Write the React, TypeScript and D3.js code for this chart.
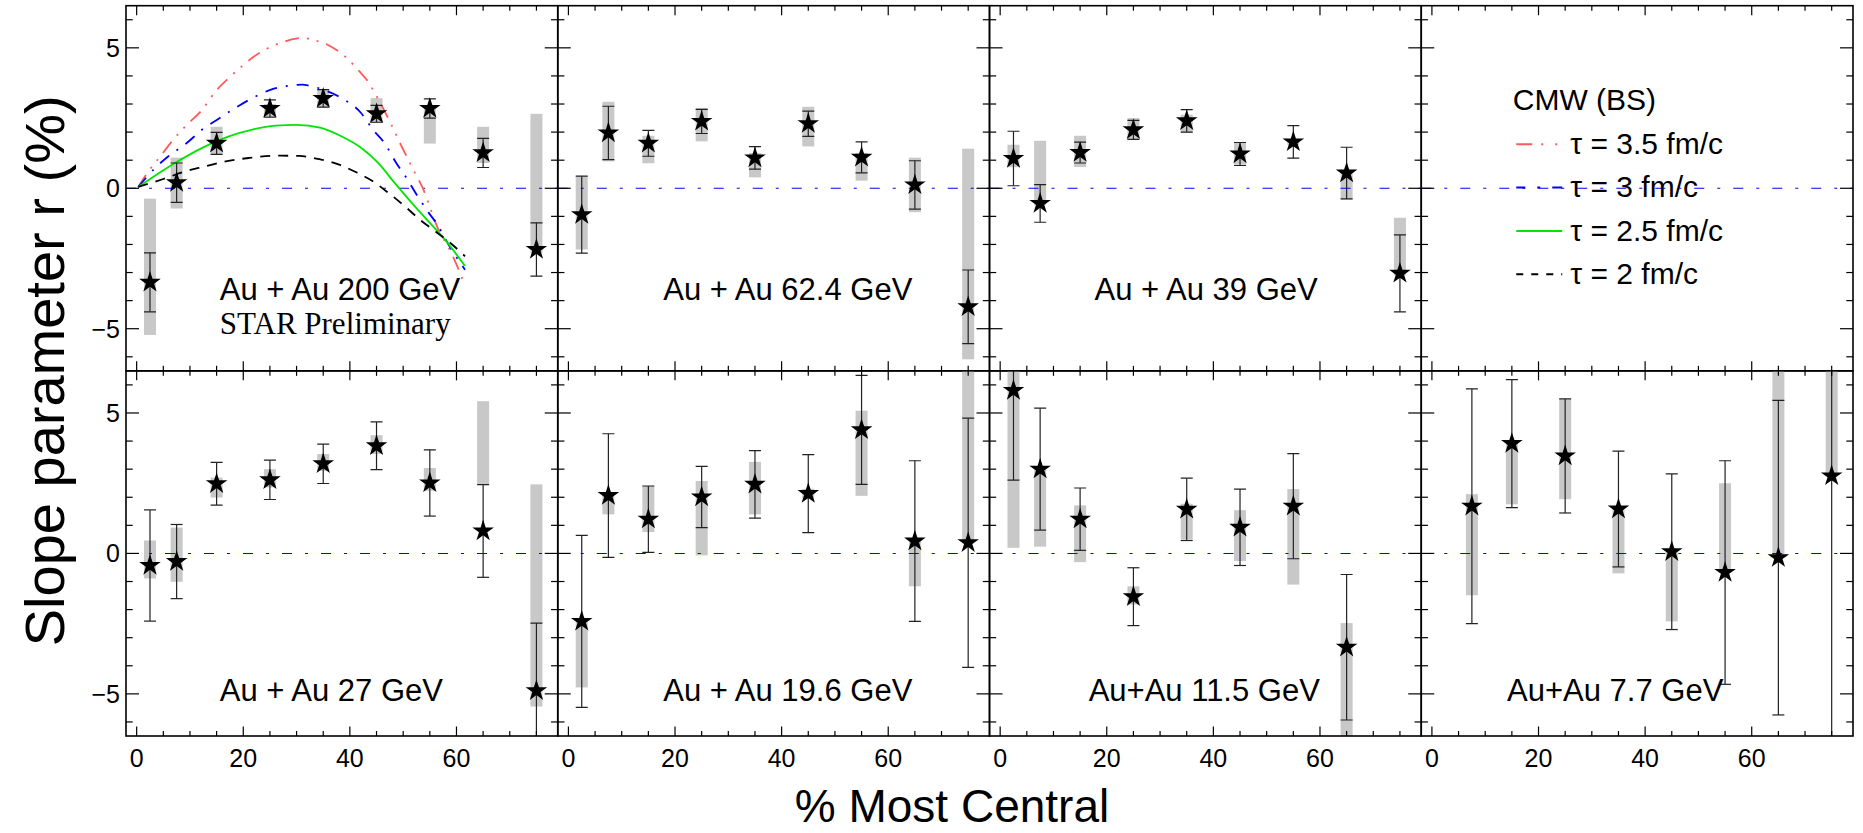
import React from "react";
import * as d3 from "d3";

// ---------------- data ----------------
const centrality = [2.5, 7.5, 15, 25, 35, 45, 55, 65, 75];
const centrality8 = [2.5, 7.5, 15, 25, 35, 45, 55, 65];
const centrality77 = [7.5, 15, 25, 35, 45, 55, 65, 75];

const r200 = [-3.35, 0.2, 1.6, 2.84, 3.2, 2.65, 2.84, 1.26, -2.18];
const stat200 = [1.05, 0.7, 0.39, 0.31, 0.31, 0.3, 0.34, 0.52, 0.95];
const sysLo200 = [-5.22, -0.72, 1.2, 2.56, 2.87, 2.32, 1.59, 0.9, -2.3];
const sysHi200 = [-0.37, 1.09, 2.19, 3.0, 3.5, 3.21, 2.85, 2.19, 2.65];

const r62 = [-0.94, 1.97, 1.6, 2.38, 1.08, 2.3, 1.1, 0.12, -4.22];
const stat62 = [1.37, 0.95, 0.46, 0.43, 0.4, 0.45, 0.55, 0.86, 1.31];
const sysLo62 = [-2.18, 0.96, 0.89, 1.67, 0.39, 1.49, 0.27, -0.85, -6.09];
const sysHi62 = [0.43, 3.08, 1.87, 2.86, 1.26, 2.9, 1.26, 1.09, 1.41];

const r39 = [1.06, -0.54, 1.27, 2.08, 2.4, 1.22, 1.65, 0.54, -3.03];
const stat39 = [0.97, 0.67, 0.37, 0.34, 0.4, 0.41, 0.58, 0.92, 1.37];
const sysLo39 = [0.75, -0.6, 0.76, 1.73, 1.97, 0.84, 1.55, -0.4, -3.1];
const sysHi39 = [1.55, 1.69, 1.87, 2.5, 2.62, 1.64, 1.75, 0.66, -1.05];

const r27 = [-0.43, -0.29, 2.48, 2.62, 3.19, 3.83, 2.51, 0.8, -4.89];
const stat27 = [1.98, 1.32, 0.76, 0.7, 0.7, 0.85, 1.18, 1.65, 2.41];
const sysLo27 = [-0.89, -1.01, 1.99, 2.35, 2.94, 3.54, 2.23, 2.46, -5.45];
const sysHi27 = [0.46, 0.92, 2.7, 3.0, 3.54, 4.21, 3.04, 5.42, 2.46];

const r196 = [-2.42, 2.06, 1.22, 2.01, 2.46, 2.13, 4.4, 0.44, 0.38];
const stat196 = [3.06, 2.2, 1.18, 1.09, 1.2, 1.39, 1.94, 2.86, 4.44];
const sysLo196 = [-4.77, 1.39, 0.76, -0.07, 1.39, 1.95, 2.05, -1.17, 0.36];
const sysHi196 = [-2.3, 2.06, 2.4, 2.58, 3.26, 2.3, 5.08, 0.44, 8.5];

const r115 = [5.8, 3.0, 1.22, -1.54, 1.57, 0.93, 1.68, -3.34];
const stat115 = [3.19, 2.17, 1.11, 1.03, 1.11, 1.36, 1.87, 2.59];
const sysLo115 = [0.2, 0.24, -0.31, -1.82, 0.5, -0.27, -1.11, -7.5];
const sysHi115 = [11.4, 3.0, 1.71, -1.17, 1.77, 1.54, 2.29, -2.48];

const r77 = [1.68, 3.91, 3.47, 1.58, 0.06, -0.68, -0.15, 2.76];
const stat77 = [4.18, 2.28, 2.03, 2.06, 2.77, 3.98, 5.6, 9.5];
const sysLo77 = [-1.49, 1.75, 1.93, -0.71, -2.42, -0.68, -0.15, 2.76];
const sysHi77 = [2.11, 3.91, 5.49, 1.58, 0.06, 2.5, 8.0, 8.0];

// Theory curves (CMW, BS) for Au+Au 200 GeV
const tau35X = [0.3, 2.2, 4.7, 6.6, 9.1, 12.3, 14.8, 17.6, 20.1, 22.0, 27.4, 31.1, 33.6, 35.8, 39.1, 41.8, 43.4, 44.5, 46.2, 47.8, 49.1, 51.9, 53.8, 55.3, 56.6, 58.5, 60.4, 61.6];
const tau35Y = [0.05, 0.6, 1.2, 1.67, 2.2, 2.8, 3.45, 3.98, 4.4, 4.69, 5.2, 5.35, 5.26, 5.11, 4.69, 4.16, 3.8, 3.45, 2.86, 2.26, 1.73, 0.66, -0.05, -0.82, -1.47, -2.1, -2.89, -3.48];
const tau3X = [0.3, 3.45, 5.96, 9.4, 12.3, 15.1, 18.5, 21.7, 25.2, 28.6, 31.1, 32.4, 35.8, 39.0, 42.1, 44.3, 46.5, 48.7, 50.6, 52.5, 54.6, 56.6, 58.5, 60.7, 61.6];
const tau3Y = [0.05, 0.72, 1.14, 1.61, 2.09, 2.44, 2.86, 3.21, 3.51, 3.65, 3.69, 3.65, 3.45, 3.15, 2.68, 2.09, 1.61, 0.9, 0.37, -0.22, -0.82, -1.35, -2.0, -2.65, -2.9];
const tau25X = [0.3, 2.8, 7.2, 12.3, 17.3, 21.7, 26.1, 29.9, 34.6, 38.4, 42.1, 45.3, 48.4, 51.6, 54.7, 57.8, 61.6];
const tau25Y = [0.05, 0.37, 0.9, 1.44, 1.85, 2.09, 2.23, 2.26, 2.15, 1.85, 1.44, 0.9, 0.19, -0.52, -1.17, -1.82, -2.77];
const tau2X = [0.3, 5.0, 9.1, 12.9, 16.7, 21.1, 26.1, 30.5, 34.6, 38.0, 41.2, 44.3, 47.2, 50.3, 53.1, 56.0, 58.8, 61.6];
const tau2Y = [0.05, 0.33, 0.6, 0.78, 0.96, 1.08, 1.16, 1.15, 1.02, 0.84, 0.57, 0.25, -0.16, -0.64, -1.11, -1.53, -1.94, -2.42];

const panelLabels = ["Au + Au 200 GeV", "Au + Au 62.4 GeV", "Au + Au 39 GeV", "", "Au + Au 27 GeV", "Au + Au 19.6 GeV", "Au+Au 11.5 GeV", "Au+Au 7.7 GeV"];
const legendTitle = "CMW (BS)";
const legendLabels = ["τ = 3.5 fm/c", "τ = 3 fm/c", "τ = 2.5 fm/c", "τ = 2 fm/c"];
const xTickValues = [0, 20, 40, 60];
const yTickValues = [-5, 0, 5];
const yTitle = "Slope parameter r (%)";
const xTitle = "% Most Central";

// ---------------- layout / style ----------------
const W = 1863, H = 833;
const LEFT = 126, RIGHT = 1853, TOP = 5.7, BOTTOM = 736;
const PW = (RIGHT - LEFT) / 4;
const PH = (BOTTOM - TOP) / 2;
const XDOM: [number, number] = [-2, 79];
const YDOM: [number, number] = [-6.5, 6.5];
const FONT = "'Liberation Sans', Arial, Helvetica, sans-serif";

const curveStyles = [
  { x: tau35X, y: tau35Y, color: "#ff5a5a", dash: "14,8,2,8,2,8" },
  { x: tau3X, y: tau3Y, color: "#0000ff", dash: "12,9,2,9" },
  { x: tau25X, y: tau25Y, color: "#00e600", dash: "" },
  { x: tau2X, y: tau2Y, color: "#000000", dash: "10,8" },
];
const legendDash = ["16,9,2,12,2,10", "9,12,3,12,10", "", "7,8,7,8,7,8"];

type Panel = {
  label: string;
  x: number[];
  r: number[];
  stat: number[];
  lo: number[];
  hi: number[];
  labelX: number;
  labelY: number;
};

const panels: (Panel | null)[] = [
  { label: panelLabels[0], x: centrality, r: r200, stat: stat200, lo: sysLo200, hi: sysHi200, labelX: 15.6, labelY: -3.96 },
  { label: panelLabels[1], x: centrality, r: r62, stat: stat62, lo: sysLo62, hi: sysHi62, labelX: 17.8, labelY: -3.96 },
  { label: panelLabels[2], x: centrality, r: r39, stat: stat39, lo: sysLo39, hi: sysHi39, labelX: 17.7, labelY: -3.96 },
  null,
  { label: panelLabels[4], x: centrality, r: r27, stat: stat27, lo: sysLo27, hi: sysHi27, labelX: 15.6, labelY: -5.27 },
  { label: panelLabels[5], x: centrality, r: r196, stat: stat196, lo: sysLo196, hi: sysHi196, labelX: 17.8, labelY: -5.27 },
  { label: panelLabels[6], x: centrality8, r: r115, stat: stat115, lo: sysLo115, hi: sysHi115, labelX: 16.6, labelY: -5.27 },
  { label: panelLabels[7], x: centrality77, r: r77, stat: stat77, lo: sysLo77, hi: sysHi77, labelX: 14.1, labelY: -5.27 },
];

const starPath = d3.symbol(d3.symbolStar, 145)() as string;

function PanelView({ idx }: { idx: number }) {
  const col = idx % 4;
  const row = Math.floor(idx / 4);
  const x0 = LEFT + col * PW;
  const y0 = TOP + row * PH;
  const xs = d3.scaleLinear().domain(XDOM).range([x0, x0 + PW]);
  const ys = d3.scaleLinear().domain(YDOM).range([y0 + PH, y0]);
  const p = panels[idx];
  const clipId = `clip${idx}`;

  const minorX = d3.range(0, 80, 5).filter((v) => v % 20 !== 0);
  const majorX = d3.range(0, 80, 20);
  const minorY = d3.range(-6, 7, 1).filter((v) => v % 5 !== 0);
  const majorY = [-5, 0, 5];
  const tk = { majX: 9.5, minX: 5, majY: 13, minY: 6.7 };

  const line = d3
    .line<[number, number]>()
    .x((d) => xs(d[0]))
    .y((d) => ys(d[1]))
    .curve(d3.curveMonotoneX);

  const boxW = 12;
  const capW = 12;

  return (
    <g>
      <defs>
        <clipPath id={clipId}>
          <rect x={x0} y={y0} width={PW} height={PH} />
        </clipPath>
      </defs>
      <g clipPath={`url(#${clipId})`}>
        {p &&
          p.x.map((xv, i) => (
            <rect
              key={"s" + i}
              x={xs(xv) - boxW / 2}
              width={boxW}
              y={ys(p.hi[i])}
              height={Math.max(0, ys(p.lo[i]) - ys(p.hi[i]))}
              fill="#c8c8c8"
            />
          ))}
        <line x1={x0} x2={x0 + PW} y1={ys(0)} y2={ys(0)} stroke="#0000ff" strokeWidth={1.1} strokeDasharray="10,13,3,13" />
        {idx === 0 &&
          curveStyles.map((c, k) => (
            <path
              key={"c" + k}
              d={line(c.x.map((v, i) => [v, c.y[i]] as [number, number])) as string}
              fill="none"
              stroke={c.color}
              strokeWidth={1.8}
              strokeDasharray={c.dash || undefined}
            />
          ))}
        {p &&
          p.x.map((xv, i) => {
            const cx = xs(xv);
            const yt = ys(p.r[i] + p.stat[i]);
            const yb = ys(p.r[i] - p.stat[i]);
            return (
              <g key={"e" + i} stroke="#222" strokeWidth={1.2}>
                <line x1={cx} x2={cx} y1={yt} y2={yb} />
                <line x1={cx - capW / 2} x2={cx + capW / 2} y1={yt} y2={yt} />
                <line x1={cx - capW / 2} x2={cx + capW / 2} y1={yb} y2={yb} />
              </g>
            );
          })}
        {p &&
          p.x.map((xv, i) => (
            <path key={"m" + i} d={starPath} transform={`translate(${xs(xv)},${ys(p.r[i])})`} fill="#000" />
          ))}
      </g>
      {/* ticks */}
      <g stroke="#000" strokeWidth={1.2}>
        {majorX.map((v) => (
          <g key={"mx" + v}>
            <line x1={xs(v)} x2={xs(v)} y1={y0 + PH} y2={y0 + PH - tk.majX} />
            <line x1={xs(v)} x2={xs(v)} y1={y0} y2={y0 + tk.majX} />
          </g>
        ))}
        {minorX.map((v) => (
          <g key={"nx" + v}>
            <line x1={xs(v)} x2={xs(v)} y1={y0 + PH} y2={y0 + PH - tk.minX} />
            <line x1={xs(v)} x2={xs(v)} y1={y0} y2={y0 + tk.minX} />
          </g>
        ))}
        {majorY.map((v) => (
          <g key={"my" + v}>
            <line x1={x0} x2={x0 + tk.majY} y1={ys(v)} y2={ys(v)} />
            <line x1={x0 + PW} x2={x0 + PW - tk.majY} y1={ys(v)} y2={ys(v)} />
          </g>
        ))}
        {minorY.map((v) => (
          <g key={"ny" + v}>
            <line x1={x0} x2={x0 + tk.minY} y1={ys(v)} y2={ys(v)} />
            <line x1={x0 + PW} x2={x0 + PW - tk.minY} y1={ys(v)} y2={ys(v)} />
          </g>
        ))}
      </g>
      <rect x={x0} y={y0} width={PW} height={PH} fill="none" stroke="#000" strokeWidth={1.6} />
      {/* tick labels */}
      {row === 1 &&
        xTickValues.map((v) => (
          <text key={"xl" + v} x={xs(v)} y={767} textAnchor="middle" fontSize={25} fontFamily={FONT}>
            {v}
          </text>
        ))}
      {col === 0 &&
        yTickValues.map((v) => (
          <text key={"yl" + v} x={x0 - 6} y={ys(v)} dy="0.36em" textAnchor="end" fontSize={25} fontFamily={FONT}>
            {v < 0 ? "\u2212" + Math.abs(v) : v}
          </text>
        ))}
      {p && (
        <text x={xs(p.labelX)} y={ys(p.labelY)} fontSize={31} fontFamily={FONT}>
          {p.label}
        </text>
      )}
      {idx === 0 && (
        <text x={xs(15.6)} y={ys(-5.2)} fontSize={31} fontFamily="'Liberation Serif', 'Times New Roman', serif">
          STAR Preliminary
        </text>
      )}
      {idx === 3 && (
        <g fontFamily={FONT} fontSize={30}>
          <text x={x0 + 91.5} y={110}>
            {legendTitle}
          </text>
          {legendLabels.map((lab, k) => {
            const by = 154 + k * 43.3;
            return (
              <g key={"lg" + k}>
                <line
                  x1={x0 + 95}
                  x2={x0 + 141}
                  y1={by - 9.7}
                  y2={by - 9.7}
                  stroke={curveStyles[k].color}
                  strokeWidth={2}
                  strokeDasharray={legendDash[k] || undefined}
                />
                <text x={x0 + 149} y={by}>
                  {lab}
                </text>
              </g>
            );
          })}
        </g>
      )}
    </g>
  );
}

export default function App() {
  return (
    <div style={{ position: "absolute", left: 0, top: 0, width: W, height: H, background: "#fff" }}>
      <svg width={W} height={H} viewBox={`0 0 ${W} ${H}`} style={{ display: "block" }}>
        <rect x={0} y={0} width={W} height={H} fill="#fff" />
        {panels.map((_, i) => (
          <PanelView key={i} idx={i} />
        ))}
        <text
          transform={`translate(64, ${(TOP + BOTTOM) / 2}) rotate(-90)`}
          textAnchor="middle"
          fontSize={56}
          fontFamily={FONT}
        >
          {yTitle}
        </text>
        <text x={952} y={822} textAnchor="middle" fontSize={46} fontFamily={FONT}>
          {xTitle}
        </text>
      </svg>
    </div>
  );
}
